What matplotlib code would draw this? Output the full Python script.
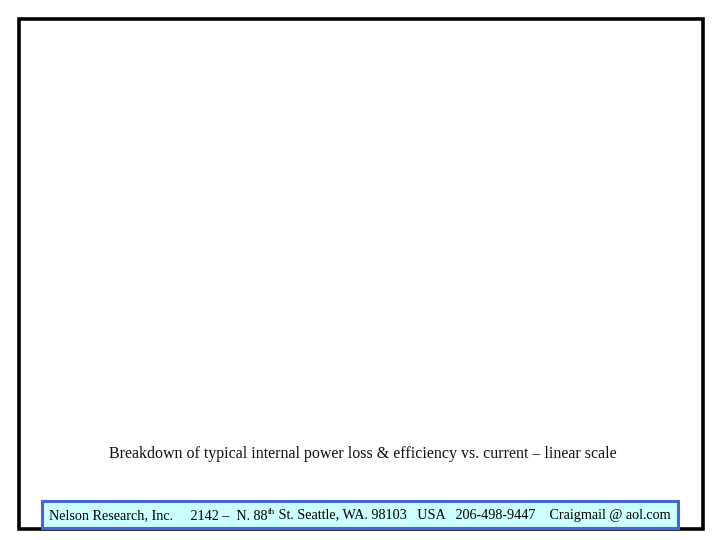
import matplotlib
matplotlib.use("Agg")
import matplotlib.pyplot as plt
from matplotlib.patches import Rectangle

caption = "Breakdown of typical internal power loss & efficiency vs. current \u2013 linear scale"
footer_parts = ["Nelson Research, Inc.     2142 \u2013  N. 88", "th",
                " St. Seattle, WA. 98103   USA   206-498-9447    Craigmail @ aol.com"]

plt.rcParams['font.family'] = ['Liberation Serif', 'DejaVu Serif']

W, H = 720, 540
fig = plt.figure(figsize=(7.2, 5.4), dpi=100)
ax = fig.add_axes([0, 0, 1, 1])
ax.set_xlim(0, W)
ax.set_ylim(H, 0)
ax.axis('off')

# slide frame
ax.add_patch(Rectangle((18.5, 18.5), 684, 510, fill=False, edgecolor='black', lw=2.6))

# footer box
ax.add_patch(Rectangle((42, 501), 636, 27, facecolor='#ccffff', edgecolor='#4466d8', lw=2.2, zorder=3))

ax.text(363, 454, caption, ha='center', va='center', fontsize=11.5, color='#111111')

base = 519.5
t1 = ax.text(49, base, footer_parts[0], ha='left', va='baseline', fontsize=10.2, zorder=4)
t2 = ax.annotate(footer_parts[1], xy=(1, base - 5), xycoords=(t1, 'data'),
                 ha='left', va='baseline', fontsize=6.5, zorder=4)
ax.annotate(footer_parts[2], xy=(1, base), xycoords=(t2, 'data'),
            ha='left', va='baseline', fontsize=10.2, zorder=4)

fig.savefig("out.png", dpi=100)
